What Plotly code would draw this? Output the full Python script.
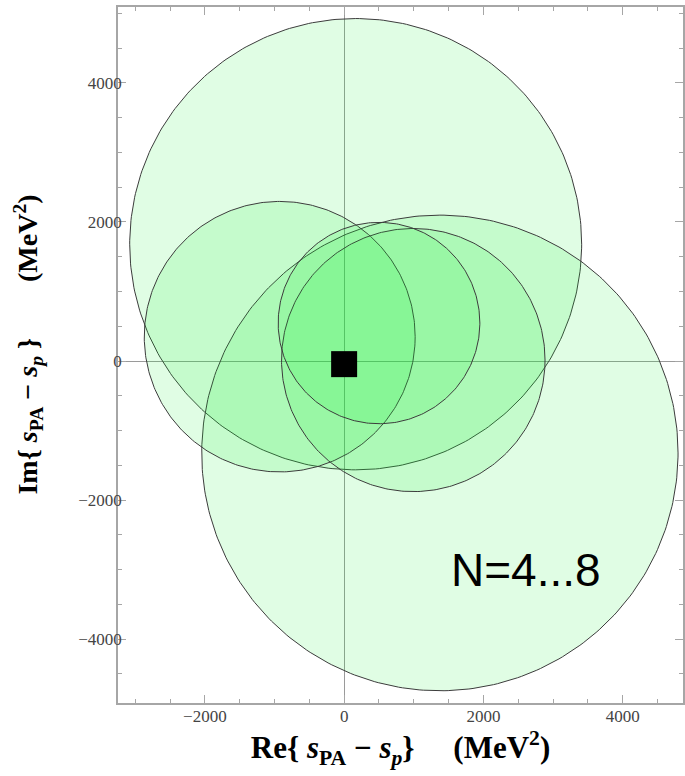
import numpy as np
import plotly.graph_objects as go

# Circles (N = 4...8): centres and radii in MeV^2
circle_labels = ["N=4", "N=5", "N=6", "N=7", "N=8"]
circle_re = [166, 1375, -925, 993, 501]
circle_im = [1680, -1322, 350, 14, 546]
circle_r = [3245, 3420, 1945, 1892, 1448]

# Pole position (black square)
pole_re = [0]
pole_im = [-45]

x_range = [-3247, 4866]
y_range = [-4918, 5091]

fig = go.Figure()

theta = np.linspace(0, 2 * np.pi, 361)
for lab, cx, cy, r in zip(circle_labels, circle_re, circle_im, circle_r):
    fig.add_trace(go.Scatter(
        x=cx + r * np.cos(theta), y=cy + r * np.sin(theta),
        mode="lines", fill="toself",
        fillcolor="rgba(22,240,52,0.133)",
        line=dict(color="#3c3c3c", width=1),
        name=lab, hoverinfo="skip", showlegend=False,
    ))

fig.add_trace(go.Scatter(
    x=pole_re, y=pole_im, mode="markers",
    marker=dict(symbol="square", size=26, color="black",
                line=dict(width=0)),
    showlegend=False,
))

fig.add_annotation(
    x=2611, y=-3010, xref="x", yref="y",
    text="N=4...8", showarrow=False,
    font=dict(family="Liberation Sans, Arial, sans-serif", size=46, color="black"),
    xanchor="center", yanchor="middle",
)

tick_font = dict(family="Liberation Serif, Times New Roman, serif", size=17, color="#444444")
sp = "\u00a0"

axis_common = dict(
    showgrid=False,
    zeroline=True, zerolinecolor="#9a9a9a", zerolinewidth=1,
    showline=True, linecolor="#a6a6a6", linewidth=1.5, mirror="allticks",
    ticks="inside", ticklen=8, tickwidth=1, tickcolor="#a6a6a6",
    dtick=2000, tick0=0,
    minor=dict(dtick=500, ticks="inside", ticklen=4, tickcolor="#a6a6a6", showgrid=False),
    tickfont=tick_font,
    tickformat="d",
)

fig.update_xaxes(
    range=x_range, **axis_common, ticklabelstandoff=-3,
    title=dict(
        text="<b>Re{" + sp + "<i>s</i><sub>PA</sub>" + sp + "−" + sp + "<i>s</i><sub><i>p</i></sub>}"
             + sp * 5 + "(MeV<sup>2</sup>)</b>",
        font=dict(family="Liberation Serif, Times New Roman, serif", size=31, color="black"),
        standoff=0),
)
fig.update_yaxes(
    range=y_range, **axis_common, ticklabelstandoff=-9,
    title=dict(
        text="<b>" + sp * 3 + "Im{" + sp + "<i>s</i><sub>PA</sub>" + sp + "−" + sp
             + "<i>s</i><sub><i>p</i></sub>" + sp + "}"
             + sp * 8 + "(MeV<sup>2</sup>)</b>",
        font=dict(family="Liberation Serif, Times New Roman, serif", size=28, color="black"),
        standoff=32),
)

fig.update_layout(
    width=685, height=776,
    margin=dict(l=118, r=2, t=7, b=73, autoexpand=False),
    plot_bgcolor="white", paper_bgcolor="white",
    showlegend=False,
)

fig.write_html("out.html", config={"displayModeBar": False},
               post_script="document.body.style.margin='0';")
